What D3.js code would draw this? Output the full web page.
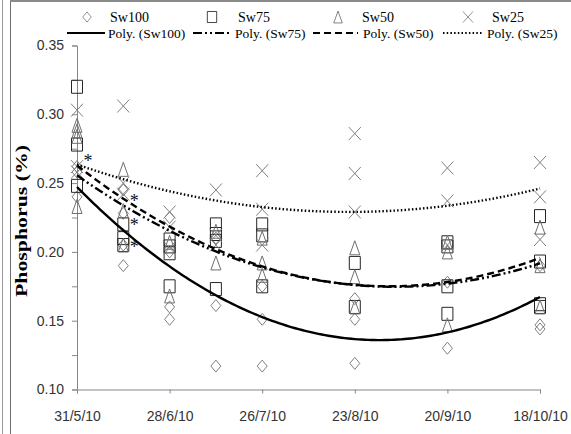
<!DOCTYPE html>
<html>
<head>
<meta charset="utf-8">
<script src="https://cdn.jsdelivr.net/npm/d3@7"></script>
<style>
  body { margin: 0; background: #fff; }
  svg { display: block; }
</style>
</head>
<body>
<svg id="chart" width="571" height="434"></svg>
<script>
// Sampling dates (day/month/year 2010)
const sampleDates = ["2010-05-31", "2010-06-14", "2010-06-28", "2010-07-12",
                     "2010-07-26", "2010-08-23", "2010-09-20", "2010-10-18"];
const tickDates = ["2010-05-31", "2010-06-28", "2010-07-26", "2010-08-23",
                   "2010-09-20", "2010-10-18"];
const yTickValues = [0.10, 0.125, 0.15, 0.175, 0.20, 0.225, 0.25, 0.275, 0.30, 0.325, 0.35];

// Phosphorus (%) replicates per sampling date, one array per date
const sw100 = [
  [0.262, 0.258, 0.240],
  [0.245, 0.228, 0.205, 0.190],
  [0.225, 0.200, 0.160, 0.151],
  [0.210, 0.161, 0.117],
  [0.175, 0.151, 0.117],
  [0.166, 0.151, 0.119],
  [0.178, 0.130],
  [0.190, 0.147, 0.144]
];
const sw75 = [
  [0.320, 0.278, 0.248],
  [0.220, 0.210, 0.205],
  [0.209, 0.204, 0.199, 0.175],
  [0.220, 0.213, 0.208, 0.173],
  [0.220, 0.212, 0.175],
  [0.192, 0.160],
  [0.207, 0.204, 0.175, 0.155],
  [0.226, 0.193, 0.162, 0.160]
];
const sw50 = [
  [0.292, 0.288, 0.284, 0.233],
  [0.260, 0.230, 0.205],
  [0.207, 0.168],
  [0.215, 0.192],
  [0.210, 0.192, 0.183],
  [0.203, 0.182, 0.160],
  [0.207, 0.200, 0.147],
  [0.218, 0.190, 0.160]
];
const sw25 = [
  [0.303, 0.262, 0.258],
  [0.306, 0.250, 0.242],
  [0.229, 0.218, 0.203],
  [0.245, 0.212, 0.205],
  [0.259, 0.231, 0.205],
  [0.286, 0.257, 0.229],
  [0.261, 0.237, 0.205],
  [0.265, 0.240, 0.209]
];

// Significance asterisks: [date, value]
const asterisks = [
  ["2010-05-31", 0.268],
  ["2010-06-14", 0.239],
  ["2010-06-14", 0.222],
  ["2010-06-14", 0.206]
];

const seriesNames = ["Sw100", "Sw75", "Sw50", "Sw25"];
const seriesData = [sw100, sw75, sw50, sw25];

const parse = d3.timeParse("%Y-%m-%d");
const svg = d3.select("#chart");

// Frame lines around the figure
svg.append("line").attr("x1", 2.5).attr("x2", 2.5).attr("y1", 0).attr("y2", 434)
  .attr("stroke", "#9a9a9a").attr("stroke-width", 1);
svg.append("line").attr("x1", 10.5).attr("x2", 10.5).attr("y1", 0).attr("y2", 434)
  .attr("stroke", "#6e6e6e").attr("stroke-width", 1);
svg.append("line").attr("x1", 10).attr("x2", 571).attr("y1", 1).attr("y2", 1)
  .attr("stroke", "#8a8a8a").attr("stroke-width", 2);

const x = d3.scaleTime()
  .domain([parse(sampleDates[0]), parse(sampleDates[sampleDates.length - 1])])
  .range([77, 540]);
const y = d3.scaleLinear().domain([0.10, 0.35]).range([389.5, 45.5]);

const axisColor = "#868686";
const tickFont = "'Liberation Sans Narrow', 'Arial Narrow', 'Liberation Sans', Arial, sans-serif";

// Y axis
const yAxis = svg.append("g").attr("transform", "translate(77,0)")
  .call(d3.axisLeft(y).tickValues(yTickValues).tickSize(5).tickPadding(8)
    .tickFormat(d => (Math.round(d * 1000) % 50 === 0) ? d3.format(".2f")(d) : ""));
// X axis
const xAxis = svg.append("g").attr("transform", "translate(0,389.5)")
  .call(d3.axisBottom(x).tickValues(tickDates.map(parse)).tickSize(4).tickPadding(18)
    .tickFormat(d3.timeFormat("%-d/%-m/%y")));
[yAxis, xAxis].forEach(g => {
  g.select(".domain").attr("stroke", axisColor);
  g.selectAll(".tick line").attr("stroke", axisColor);
  g.selectAll("text").attr("fill", "#333").style("font-family", tickFont).style("font-size", "14px");
});

// Y axis title
svg.append("text")
  .attr("transform", "translate(27,221) rotate(-90)")
  .attr("text-anchor", "middle")
  .attr("textLength", 152).attr("lengthAdjust", "spacingAndGlyphs")
  .style("font-family", "'Liberation Serif', 'Times New Roman', serif")
  .style("font-weight", "bold").style("font-size", "17px")
  .text("Phosphorus (%)");

// Marker shapes
const markers = {
  Sw100: { path: "M0,-6L5,0L0,6L-5,0Z", color: "#7f7f7f" },
  Sw75: { path: "M-5.5,-6.5H5.5V6.5H-5.5Z", color: "#262626" },
  Sw50: { path: "M0,-7L5,7H-5Z", color: "#6f6f6f" },
  Sw25: { path: "M-6,-6.5L6,6.5M6,-6.5L-6,6.5", color: "#7f7f7f" }
};

// Points
const points = [];
seriesData.forEach((series, si) => {
  series.forEach((vals, di) => {
    vals.forEach(v => points.push({ name: seriesNames[si], date: parse(sampleDates[di]), value: v }));
  });
});
svg.append("g").selectAll("path").data(points).join("path")
  .attr("transform", d => `translate(${x(d.date)},${y(d.value)})`)
  .attr("d", d => markers[d.name].path)
  .attr("fill", "none")
  .attr("stroke", d => markers[d.name].color)
  .attr("stroke-width", 1);

// Second-order polynomial least-squares trend
function quadFit(series) {
  const t0 = parse(sampleDates[0]);
  const S = new Array(5).fill(0), T = new Array(3).fill(0);
  series.forEach((vals, di) => {
    const t = (parse(sampleDates[di]) - t0) / 864e5;
    vals.forEach(v => {
      for (let k = 0; k < 5; k++) S[k] += Math.pow(t, k);
      for (let k = 0; k < 3; k++) T[k] += v * Math.pow(t, k);
    });
  });
  const A = [[S[0], S[1], S[2], T[0]], [S[1], S[2], S[3], T[1]], [S[2], S[3], S[4], T[2]]];
  for (let i = 0; i < 3; i++) {
    let p = i;
    for (let r = i + 1; r < 3; r++) if (Math.abs(A[r][i]) > Math.abs(A[p][i])) p = r;
    [A[i], A[p]] = [A[p], A[i]];
    for (let r = 0; r < 3; r++) {
      if (r === i) continue;
      const f = A[r][i] / A[i][i];
      for (let c = i; c < 4; c++) A[r][c] -= f * A[i][c];
    }
  }
  const c = A.map((row, i) => row[3] / row[i]);
  return t => c[0] + c[1] * t + c[2] * t * t;
}

const trendStyles = {
  Sw100: "none",
  Sw75: "9,3,2,3,2,3",
  Sw50: "7,4",
  Sw25: "1.5,2.2"
};

const t0 = parse(sampleDates[0]);
const span = (parse(sampleDates[sampleDates.length - 1]) - t0) / 864e5;
const line = d3.line().x(d => x(d[0])).y(d => y(d[1]));
seriesData.forEach((series, si) => {
  const f = quadFit(series);
  const pts = d3.range(0, span + 0.5, 1).map(t => [new Date(+t0 + t * 864e5), f(t)]);
  svg.append("path").datum(pts)
    .attr("d", line)
    .attr("fill", "none")
    .attr("stroke", "#000")
    .attr("stroke-width", 2.4)
    .attr("stroke-dasharray", trendStyles[seriesNames[si]]);
});

// Asterisks
svg.append("g").selectAll("text").data(asterisks).join("text")
  .attr("x", d => x(parse(d[0])) + 11)
  .attr("y", d => y(d[1]) + 9)
  .attr("text-anchor", "middle")
  .attr("fill", "#111")
  .style("font-family", "'Liberation Serif', 'Times New Roman', serif")
  .style("font-size", "18px")
  .text("*");

// Legend
const legendFont = "'Liberation Serif', 'Times New Roman', serif";
const legendMarkers = [
  { name: "Sw100", mx: 87, tx: 110 },
  { name: "Sw75", mx: 212, tx: 238 },
  { name: "Sw50", mx: 338, tx: 362 },
  { name: "Sw25", mx: 468, tx: 492 }
];
const legendLines = [
  { name: "Sw100", x1: 67, x2: 105, tx: 108 },
  { name: "Sw75", x1: 193, x2: 232, tx: 235 },
  { name: "Sw50", x1: 313, x2: 358, tx: 363 },
  { name: "Sw25", x1: 443, x2: 482, tx: 487 }
];
const leg = svg.append("g");
legendMarkers.forEach(d => {
  leg.append("path")
    .attr("transform", `translate(${d.mx},17) scale(0.85)`)
    .attr("d", markers[d.name].path)
    .attr("fill", "none").attr("stroke", markers[d.name].color).attr("stroke-width", 1);
  leg.append("text").attr("x", d.tx).attr("y", 22)
    .style("font-family", legendFont).style("font-size", "14px")
    .text(d.name);
});
legendLines.forEach(d => {
  leg.append("line").attr("x1", d.x1).attr("x2", d.x2).attr("y1", 33).attr("y2", 33)
    .attr("stroke", "#000").attr("stroke-width", 2.2)
    .attr("stroke-dasharray", trendStyles[d.name]);
  leg.append("text").attr("x", d.tx).attr("y", 38)
    .style("font-family", legendFont).style("font-size", "13.5px")
    .text(`Poly. (${d.name})`);
});
</script>
</body>
</html>
